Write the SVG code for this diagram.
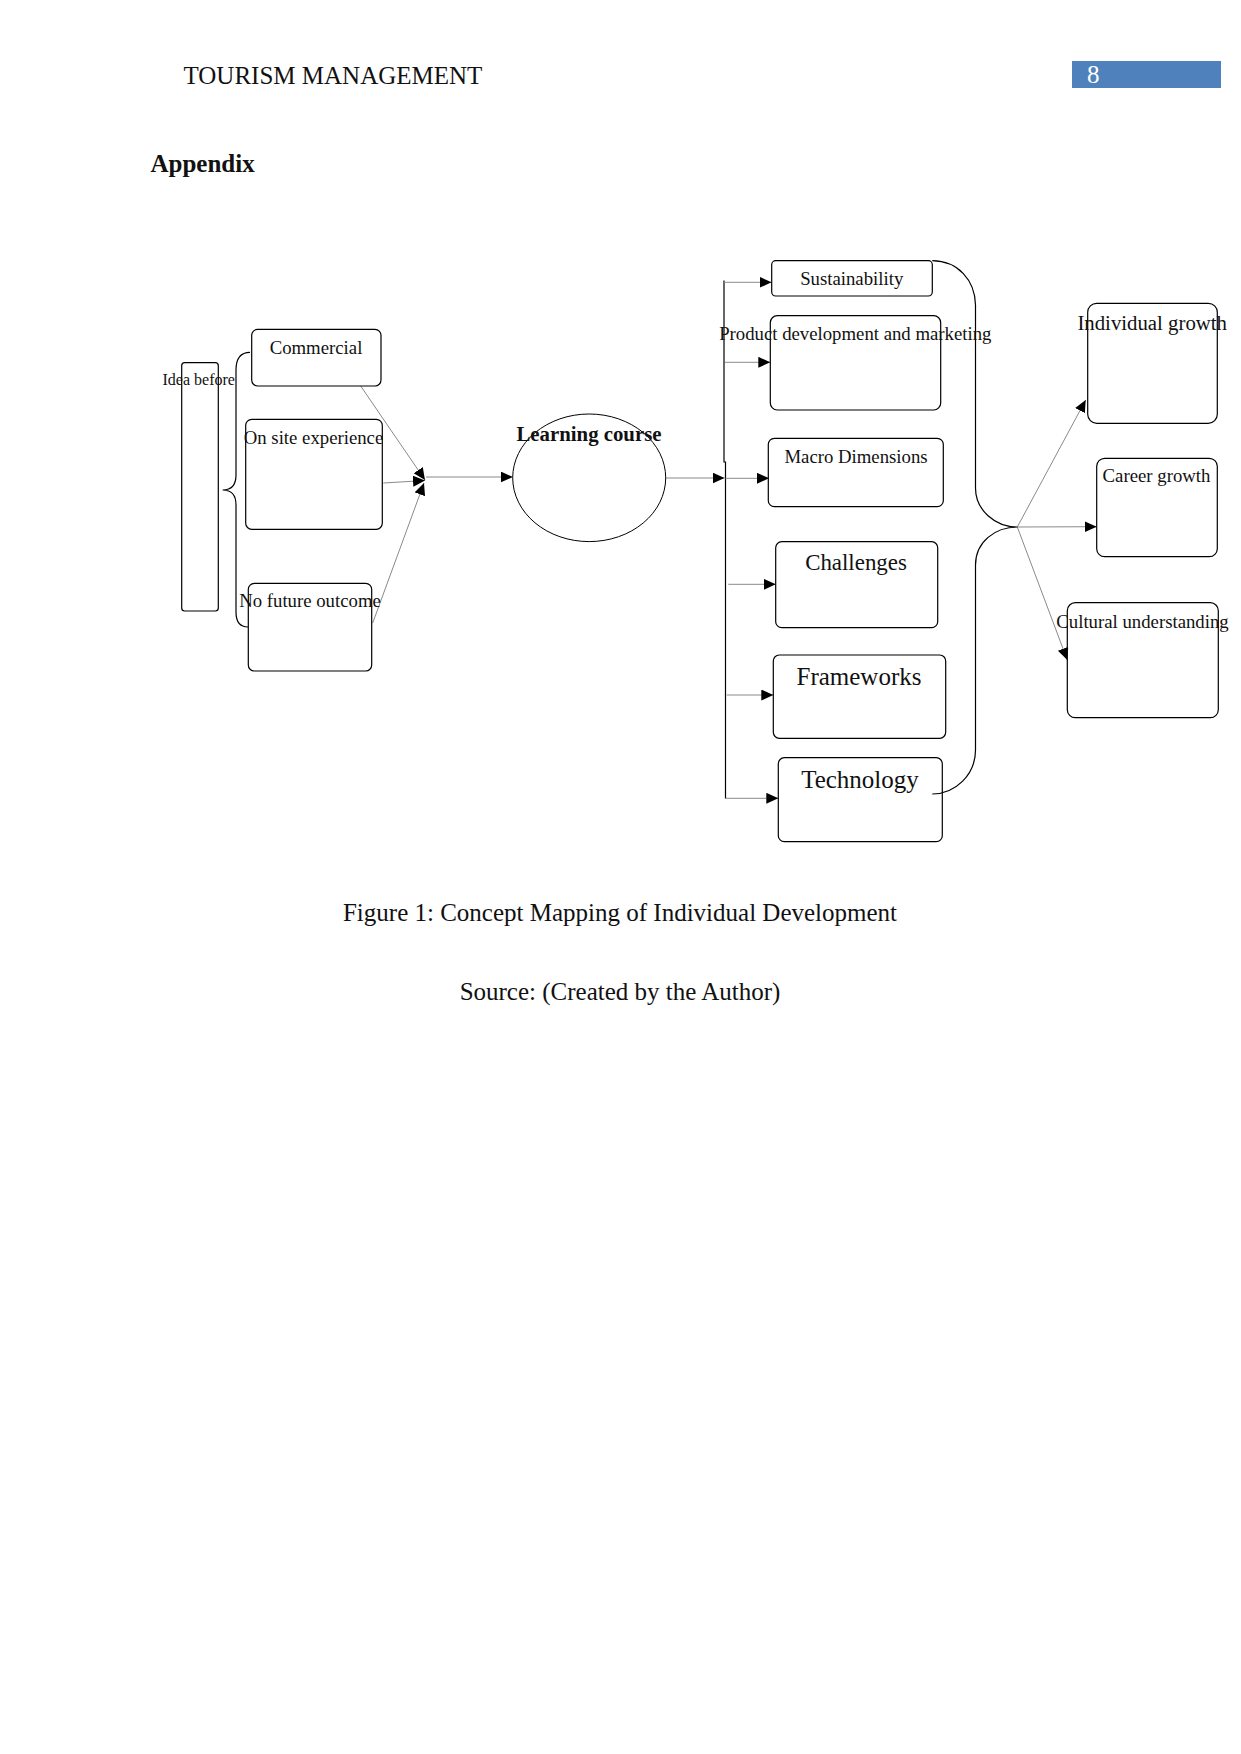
<svg xmlns="http://www.w3.org/2000/svg" width="1241" height="1754" viewBox="0 0 1241 1754">
<style>
text{font-family:"Liberation Serif","Times New Roman",serif;fill:#111}
.box{fill:none;stroke:#000;stroke-width:1.2}
.c{stroke:#8a8a8a;stroke-width:1;fill:none}
.k{stroke:#000;stroke-width:1.2;fill:none}
.s9{font-size:18.75px}
.s11{font-size:22.9px}
.s12{font-size:25px}
.mid{text-anchor:middle}
</style>
<defs>
<marker id="ah" markerUnits="userSpaceOnUse" markerWidth="13" markerHeight="12" refX="12" refY="5.5" orient="auto">
<path d="M0,0 L12,5.5 L0,11 z" fill="#000"/>
</marker>
</defs>
<rect width="1241" height="1754" fill="#fff"/>
<g id="header">
<text x="183.5" y="83.5" class="s12">TOURISM MANAGEMENT</text>
<rect x="1072" y="61" width="149" height="27" fill="#4f81bd"/>
<text x="1087" y="83" class="s12" style="fill:#fff">8</text>
</g>
<text x="150.5" y="172" class="s12" font-weight="bold">Appendix</text>
<g id="connectors">
<path class="c" d="M360.7,386 L425,480" marker-end="url(#ah)"/>
<path class="c" d="M383.3,483 L425,480.5" marker-end="url(#ah)"/>
<path class="c" d="M372.7,623 L424,483" marker-end="url(#ah)"/>
<path class="c" d="M426,477 L512.7,477" marker-end="url(#ah)"/>
<path class="c" d="M665.7,478 L724.5,478" marker-end="url(#ah)"/>
<path class="k" d="M724,280.5 L724,462 L725.5,462 L725.5,798.5"/>
<path class="c" d="M724,282.3 L771.5,282.3" marker-end="url(#ah)"/>
<path class="c" d="M725,362.3 L770.3,362.3" marker-end="url(#ah)"/>
<path class="c" d="M725.5,478.3 L769,478.3" marker-end="url(#ah)"/>
<path class="c" d="M728.3,584.3 L775.7,584.3" marker-end="url(#ah)"/>
<path class="c" d="M726.7,695 L773.3,695" marker-end="url(#ah)"/>
<path class="c" d="M725.5,798.3 L778.3,798.3" marker-end="url(#ah)"/>
<path class="c" d="M1017.3,527 L1085.7,400" marker-end="url(#ah)"/>
<path class="c" d="M1017.3,527 L1096.7,526.7" marker-end="url(#ah)"/>
<path class="c" d="M1017.3,527 L1067.3,660" marker-end="url(#ah)"/>
<path class="k" d="M250,352.3 C241,352.3 236,358 236,370 L236,475 C236,485 231,490 222.7,490 C231,490 236,495 236,505 L236,612 C236,622 240,627 248,627"/>
<path class="k" d="M932.3,260.7 C958,261 975,280 975.5,305 L975.5,488 C975.5,510 995,527 1017.3,527 C995,527 975.5,542 975.5,565 L975.5,750 C975.5,775 955,794 932.3,794"/>
</g>
<g id="idea-before">
<rect class="box" x="181.7" y="362.7" width="36.6" height="248.3" rx="3"/>
<text x="162.5" y="385" style="font-size:16px">Idea before</text>
</g>
<g id="commercial">
<rect class="box" x="251.7" y="329.3" width="129.3" height="56.7" rx="6"/>
<text x="316" y="354.3" class="s9 mid">Commercial</text>
</g>
<g id="on-site-experience">
<rect class="box" x="245.7" y="419.3" width="136.6" height="110" rx="6"/>
<text x="313.5" y="444" class="s9 mid">On site experience</text>
</g>
<g id="no-future-outcome">
<rect class="box" x="248.3" y="583.3" width="123.4" height="87.7" rx="6"/>
<text x="310" y="607.3" class="s9 mid">No future outcome</text>
</g>
<g id="learning-course">
<ellipse cx="589.2" cy="477.8" rx="76.5" ry="63.8" fill="none" stroke="#000" stroke-width="1"/>
<text x="589" y="441" class="mid" style="font-size:20.8px;font-weight:bold">Learning course</text>
</g>
<g id="sustainability">
<rect class="box" x="771.7" y="260.7" width="160.6" height="35.3" rx="4"/>
<text x="851.7" y="285" class="s9 mid">Sustainability</text>
</g>
<g id="product-development">
<rect class="box" x="770.3" y="315.7" width="170.4" height="94.3" rx="7"/>
<text x="855.3" y="340" class="s9 mid">Product development and marketing</text>
</g>
<g id="macro-dimensions">
<rect class="box" x="768.3" y="438.3" width="175" height="68.4" rx="6"/>
<text x="856" y="462.7" class="s9 mid">Macro Dimensions</text>
</g>
<g id="challenges">
<rect class="box" x="775.7" y="541.7" width="162" height="86" rx="6"/>
<text x="856" y="570" class="s11 mid">Challenges</text>
</g>
<g id="frameworks">
<rect class="box" x="773.3" y="655" width="172.4" height="83.3" rx="6"/>
<text x="859" y="685" class="s12 mid">Frameworks</text>
</g>
<g id="technology">
<rect class="box" x="778.3" y="757.7" width="164" height="84" rx="6"/>
<text x="860" y="787.7" class="s12 mid">Technology</text>
</g>
<g id="individual-growth">
<rect class="box" x="1087.7" y="303.3" width="129.6" height="120" rx="9"/>
<text x="1152.2" y="330" class="mid" style="font-size:20.8px">Individual growth</text>
</g>
<g id="career-growth">
<rect class="box" x="1096.7" y="458.3" width="120.6" height="98.4" rx="8"/>
<text x="1156.5" y="482.3" class="s9 mid">Career growth</text>
</g>
<g id="cultural-understanding">
<rect class="box" x="1067.3" y="602.7" width="151" height="115" rx="8"/>
<text x="1142.5" y="627.7" class="s9 mid">Cultural understanding</text>
</g>
<text x="620" y="920.7" class="s12 mid">Figure 1: Concept Mapping of Individual Development</text>
<text x="620" y="1000" class="s12 mid">Source: (Created by the Author)</text>
</svg>
